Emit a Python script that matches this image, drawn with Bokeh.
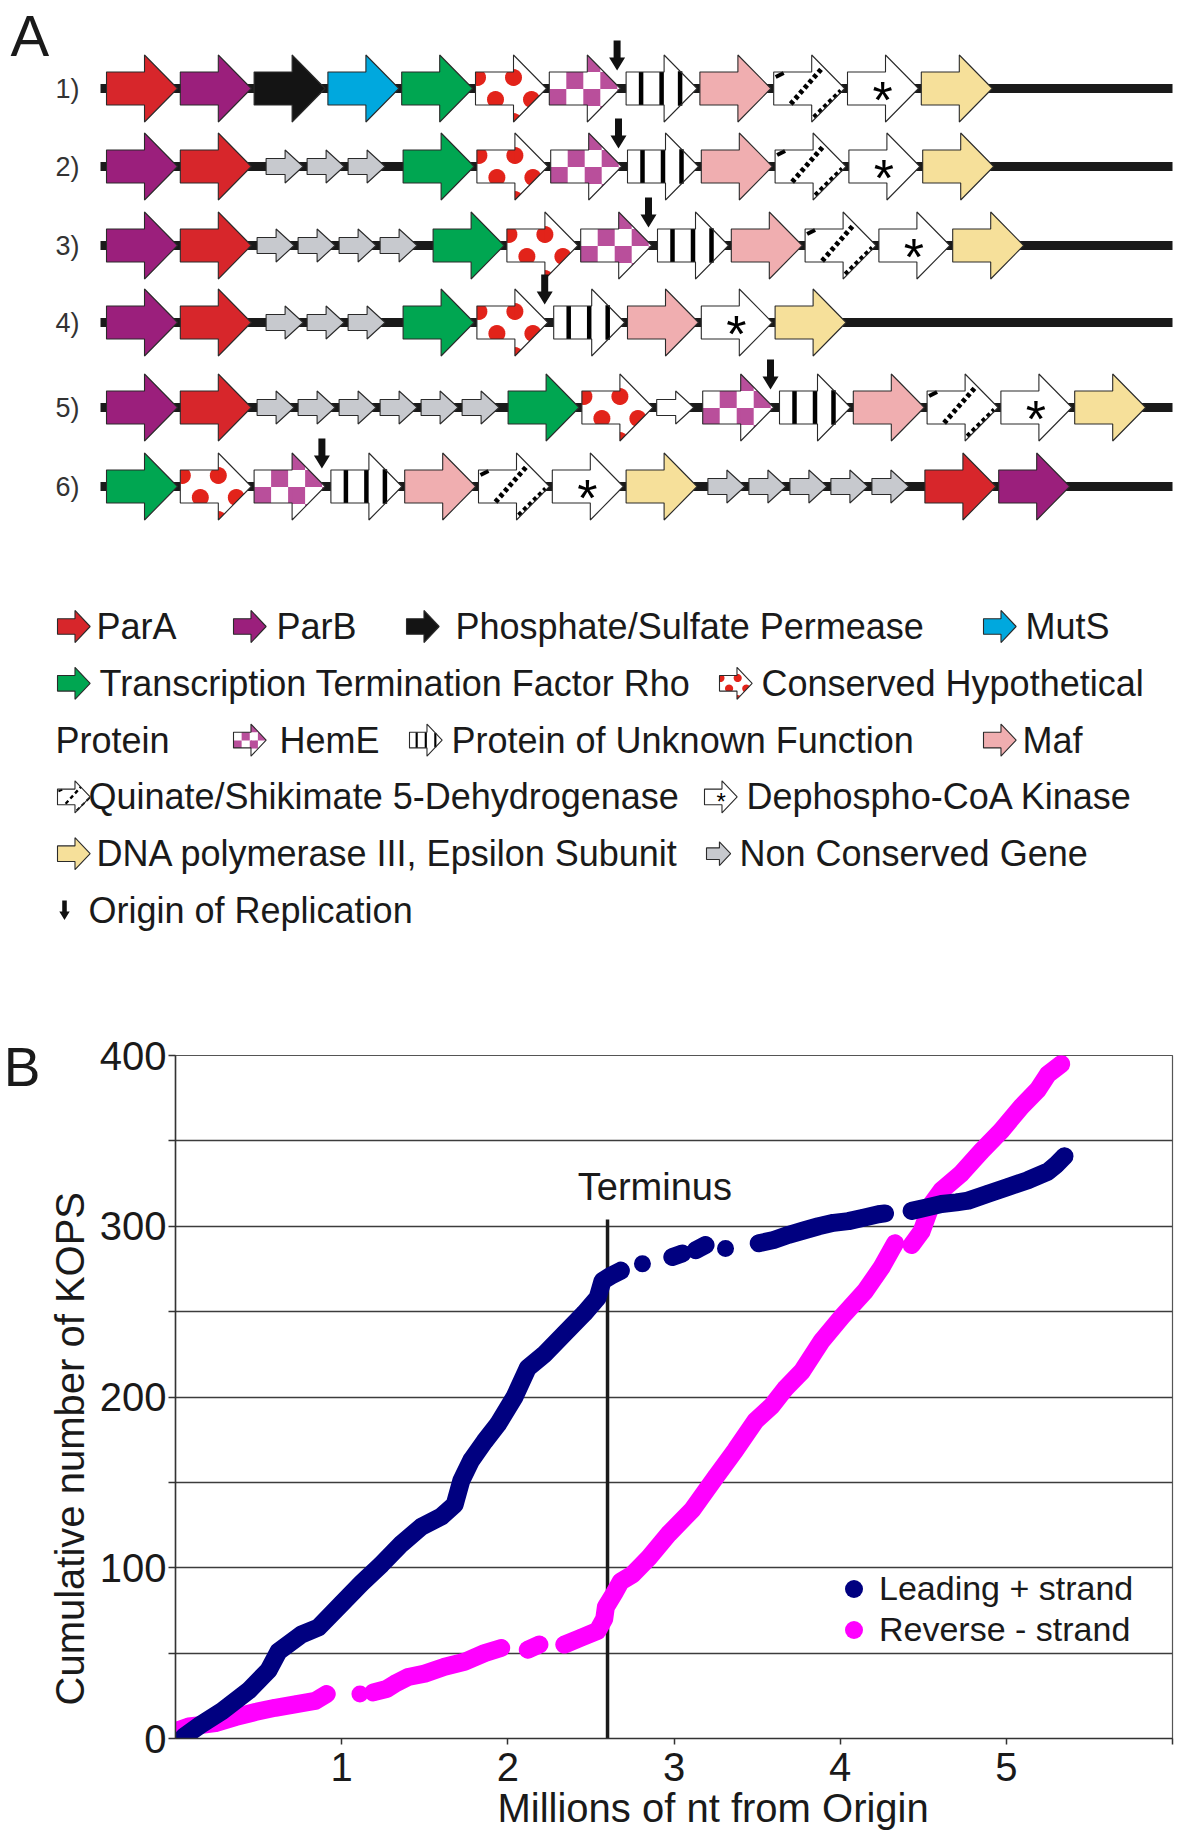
import math
from bokeh.plotting import figure
from bokeh.models import Range1d, FixedTicker, Label, Legend, LegendItem, Title, LinearAxis
from bokeh.embed import file_html
from bokeh.resources import INLINE
from bokeh.core.properties import value

FONT = "Liberation Sans"
NAN = float("nan")

# ====================== DATA ======================
# Panel A: gene order of each genome ("ORI" = origin of replication)
ROW_LABELS = ["1)", "2)", "3)", "4)", "5)", "6)"]
ROW_1 = ["parA", "parB", "perm", "mutS", "rho", "chp", "hemE", "ORI", "unk", "maf", "qsd", "coa", "pol"]
ROW_2 = ["parB", "parA", "ncg", "ncg", "ncg", "rho", "chp", "hemE", "ORI", "unk", "maf", "qsd", "coa", "pol"]
ROW_3 = ["parB", "parA", "ncg", "ncg", "ncg", "ncg", "rho", "chp", "hemE", "ORI", "unk", "maf", "qsd", "coa", "pol"]
ROW_4 = ["parB", "parA", "ncg", "ncg", "ncg", "rho", "chp", "ORI", "unk", "maf", "coa", "pol"]
ROW_5 = ["parB", "parA", "ncg", "ncg", "ncg", "ncg", "ncg", "ncg", "rho", "chp", "wsm", "hemE", "ORI",
         "unk", "maf", "qsd", "coa", "pol"]
ROW_6 = ["rho", "chp", "hemE", "ORI", "unk", "maf", "qsd", "coa", "pol", "ncg", "ncg", "ncg", "ncg", "ncg",
         "parA", "parB"]
ROWS = [ROW_1, ROW_2, ROW_3, ROW_4, ROW_5, ROW_6]

LEGEND_KEYS = ["parA", "parB", "perm", "mutS", "rho", "chp", None, "hemE", "unk", "maf", "qsd", "coa",
               "pol", "ncg", "ORI"]
LEGEND_LABELS = ["ParA", "ParB", "Phosphate/Sulfate Permease", "MutS",
                 "Transcription Termination Factor Rho", "Conserved Hypothetical",
                 "Protein", "HemE", "Protein of Unknown Function", "Maf",
                 "Quinate/Shikimate 5-Dehydrogenase", "Dephospho-CoA Kinase",
                 "DNA polymerase III, Epsilon Subunit", "Non Conserved Gene",
                 "Origin of Replication"]

# Panel B: cumulative KOPS vs position (millions of nt); NaN marks a gap between dot runs
TERMINUS = 2.6
LEAD_X = [0.05, 0.15, 0.28, 0.44, 0.56, 0.62, 0.76, 0.86, 1.00, 1.12, 1.24, 1.36, 1.48, 1.60, 1.68,
          1.72, 1.78, 1.86, 1.94, 2.04, 2.12, 2.22, 2.34, 2.46, 2.54, 2.57, 2.62, 2.68, NAN,
          2.81, NAN, 2.99, 3.05, NAN, 3.13, 3.19, NAN, 3.31, NAN,
          3.51, 3.60, 3.69, 3.78, 3.87, 3.96, 4.05, 4.14, 4.23, 4.27, NAN,
          4.43, 4.52, 4.61, 4.70, 4.77, 4.89, 5.01, 5.13, 5.25, 5.30, 5.35]
LEAD_Y = [1, 8, 16, 28, 40, 51, 61, 65, 79, 91, 102, 114, 124, 130, 137,
          151, 163, 174, 184, 200, 217, 225, 237, 249, 258, 268, 271, 274, NAN,
          278, NAN, 282, 284, NAN, 286, 289, NAN, 287, NAN,
          290, 292, 295, 297.5, 300, 302, 303, 305, 307, 307.5, NAN,
          309, 311, 313, 314, 315, 319, 323, 327, 332, 336, 341]
REV_X = [0.00, 0.02, 0.08, 0.16, 0.24, 0.36, 0.48, 0.60, 0.72, 0.84, 0.91, NAN, 1.11, NAN,
         1.19, 1.27, 1.32, 1.40, 1.50, 1.62, 1.74, 1.86, 1.96, NAN, 2.12, 2.19, NAN,
         2.34, 2.44, 2.54, 2.58, 2.59, 2.64, 2.68, 2.75, 2.85, 2.97, 3.11, 3.25, 3.37, 3.49, 3.59,
         3.67, 3.77, 3.89, 4.01, 4.15, 4.25, 4.33, NAN,
         4.43, 4.49, 4.55, 4.61, 4.73, 4.85, 4.97, 5.09, 5.19, 5.25, 5.33]
REV_Y = [2, 5, 7, 8, 9, 12.5, 15.5, 18, 20, 22, 26, NAN, 26, NAN,
         27, 29, 32, 36, 38, 42, 45, 50, 53, NAN, 52, 55, NAN,
         55, 59, 63, 70, 77, 85, 92, 96, 106, 120, 134, 153, 169, 186, 195,
         205, 215, 233, 247, 262, 276, 290, NAN,
         289, 297, 313, 321, 331, 344, 356, 370, 380, 389, 395]
Y_TICKS = [0, 50, 100, 150, 200, 250, 300, 350, 400]
X_TICKS = [1, 2, 3, 4, 5, 6]

# ====================== STYLE / LAYOUT ======================
COLORS = {"parA": "#d7262b", "parB": "#9b1f7c", "perm": "#141414", "mutS": "#00a8de",
          "rho": "#00a651", "chp": "white", "hemE": "white", "unk": "white", "maf": "#f0aeb0",
          "qsd": "white", "coa": "white", "pol": "#f6e09a", "ncg": "#c7c9ce", "wsm": "white"}
DOT_RED = "#e2231a"
CHECK_MAG = "#b94f9b"
EDGE = "#2a2a2a"
SMALL_KINDS = {"ncg", "wsm"}
ROW_Y = [88, 166, 245, 322, 407, 486]
ROW_X0 = 106
BIG = (71, 38, 16.5, 33.5)
BIG_STEP = 73.8
SMALL = (37, 19, 8, 16.5)
SMALL_STEP = 41
RUN_GAPS = {1: (1, 5), 3: (12, 14), 4: (3, 12), 5: (8, 12), 6: (3, 5)}
ORI_GAP = 3
LEG_Y0, LEG_DY = 626, 56.8
LEG_POS = [(0, 57), (0, 233), (0, 406), (0, 983), (1, 57), (1, 719), (2, 55), (2, 233), (2, 409),
           (2, 983), (3, 57), (3, 704), (4, 57), (4, 706), (5, 61)]
LEG_TXT_OFF = {"parA": 39, "parB": 43, "perm": 49, "mutS": 42, "rho": 42, "chp": 42, None: 0,
               "hemE": 46, "unk": 42, "maf": 39, "qsd": 31, "coa": 42, "pol": 39, "ncg": 33, "ORI": 27}
LEG_ICON_SCALE = {"ncg": 0.34}
B_LABEL_AT = 393.5


# ---------------- geometry helpers ----------------
def clip(subject, clipper):
    def cross(a, b, p):
        return (b[0] - a[0]) * (p[1] - a[1]) - (b[1] - a[1]) * (p[0] - a[0])
    area = sum(clipper[i][0] * clipper[(i + 1) % len(clipper)][1] -
               clipper[(i + 1) % len(clipper)][0] * clipper[i][1] for i in range(len(clipper)))
    sgn = 1 if area > 0 else -1
    out = list(subject)
    for i in range(len(clipper)):
        a, b = clipper[i], clipper[(i + 1) % len(clipper)]
        inp, out = out, []
        if not inp:
            break
        for j in range(len(inp)):
            cur, prev = inp[j], inp[j - 1]
            dc, dp = cross(a, b, cur) * sgn, cross(a, b, prev) * sgn
            if dc >= 0:
                if dp < 0:
                    t = dp / (dp - dc)
                    out.append((prev[0] + t * (cur[0] - prev[0]), prev[1] + t * (cur[1] - prev[1])))
                out.append(cur)
            elif dp >= 0:
                t = dp / (dp - dc)
                out.append((prev[0] + t * (cur[0] - prev[0]), prev[1] + t * (cur[1] - prev[1])))
    return out


base = {"xs": [], "ys": [], "c": []}
pat = {"xs": [], "ys": [], "c": []}
outl = {"xs": [], "ys": []}
solid = {"xs": [], "ys": [], "w": []}
dashed = {"xs": [], "ys": [], "w": []}
stars_big = {"x": [], "y": []}
stars_small = {"x": [], "y": []}
ori = {"xs": [], "ys": []}


def add_poly(store, pts, color=None):
    store["xs"].append([p[0] for p in pts])
    store["ys"].append([p[1] for p in pts])
    if color is not None:
        store["c"].append(color)


def add_gene(kind, x0, c, w, bl, bh, hh):
    k = hh / 33.5
    body = [(x0, c - bh), (x0 + bl + 1, c - bh), (x0 + bl + 1, c + bh), (x0, c + bh)]
    head = [(x0 + bl, c - hh), (x0 + w, c), (x0 + bl, c + hh)]
    shape = [(x0, c - bh), (x0 + bl, c - bh), (x0 + bl, c - hh), (x0 + w, c), (x0 + bl, c + hh),
             (x0 + bl, c + bh), (x0, c + bh)]
    add_poly(base, shape, COLORS[kind])
    if kind == "chp":
        r = 8.5 * k
        for j in range(-2, 4):
            for i in range(-2, 4):
                cx = x0 + (38 + 36 * i - 18 * (j % 2)) * k
                cy = c + (-11 + 22 * j) * k
                circ = [(cx + r * math.cos(2 * math.pi * t / 24), cy + r * math.sin(2 * math.pi * t / 24))
                        for t in range(24)]
                for piece in (body, head):
                    cl = clip(circ, piece)
                    if len(cl) >= 3:
                        add_poly(pat, cl, DOT_RED)
    elif kind == "hemE":
        s = 17 * k
        for i in range(int(w / s) + 1):
            for j in range(-3, 4):
                if (i + j) % 2 == 1:
                    sq = [(x0 + i * s, c - bh + j * s), (x0 + (i + 1) * s, c - bh + j * s),
                          (x0 + (i + 1) * s, c - bh + (j + 1) * s), (x0 + i * s, c - bh + (j + 1) * s)]
                    for piece in (body, head):
                        cl = clip(sq, piece)
                        if len(cl) >= 3:
                            add_poly(pat, cl, CHECK_MAG)
    elif kind == "unk":
        for xx in (x0 + 15 * k, x0 + bl - 2.5 * k, x0 + 54 * k):
            hx = bh if xx <= x0 + bl else hh * (x0 + w - xx) / (w - bl)
            solid["xs"].append([xx, xx]); solid["ys"].append([c - hx, c + hx]); solid["w"].append(4.5 * k)
    elif kind == "qsd":
        dashed["xs"].append([x0 + 17 * k, x0 + 49 * k]); dashed["ys"].append([c + bh - 1, c - 21 * k])
        dashed["w"].append(5 * k)
        dashed["xs"].append([x0 + 40 * k, x0 + 67 * k]); dashed["ys"].append([c + 28.5 * k, c + 2 * k])
        dashed["w"].append(4 * k)
        solid["xs"].append([x0 + 2 * k, x0 + 10 * k]); solid["ys"].append([c - bh + 5 * k, c - bh + 1 * k])
        solid["w"].append(4 * k)
    elif kind == "coa":
        store = stars_big if k > 0.8 else stars_small
        store["x"].append(x0 + 35 * k); store["y"].append(c)
    add_poly(outl, shape)


def add_ori(xc, top, k=1.0):
    sw, hw, L, hl = 3.5 * k, 8 * k, 30 * k, 13 * k
    pts = [(xc - sw, top), (xc + sw, top), (xc + sw, top + L - hl), (xc + hw, top + L - hl), (xc, top + L),
           (xc - hw, top + L - hl), (xc - sw, top + L - hl)]
    add_poly(ori, pts)


def layout_row(genes):
    items, oris = [], []
    x = ROW_X0
    i, n = 0, len(genes)
    while i < n:
        g = genes[i]
        if g == "ORI":
            x += ORI_GAP
            oris.append(x - 9)
            i += 1
            continue
        if g in SMALL_KINDS:
            j = i
            while j < n and genes[j] in SMALL_KINDS:
                j += 1
            lead, trail = RUN_GAPS.get(j - i, (4, 8))
            x += lead
            for q in range(i, j):
                items.append((genes[q], x, SMALL))
                x += SMALL_STEP
            x += trail
            i = j
            continue
        items.append((g, x, BIG))
        x += BIG_STEP
        i += 1
    return items, oris


# ====================== PANEL A ======================
pA = figure(width=1200, height=990, x_range=Range1d(0, 1200), y_range=Range1d(990, 0),
            output_backend="svg", toolbar_location=None, min_border=0,
            x_axis_location=None, y_axis_location=None)
pA.grid.visible = False
pA.outline_line_color = None

bb_x0, bb_x1, bb_y = [], [], []
for r, genes in enumerate(ROWS):
    c = ROW_Y[r]
    bb_x0.append(100); bb_x1.append(1172); bb_y.append(c)
    items, oris = layout_row(genes)
    for kind, x0, dims in items:
        add_gene(kind, x0, c, *dims)
    for xo in oris:
        add_ori(xo, c - 48)

pA.quad(left=bb_x0, right=bb_x1, top=[y - 4.5 for y in bb_y], bottom=[y + 4.5 for y in bb_y],
        fill_color="#1a1a1a", line_color=None)
pA.text(x=[67] * 6, y=ROW_Y, text=ROW_LABELS, text_font=value(FONT), text_font_size="27px",
        text_align="center", text_baseline="middle", text_color="#333333")

# legend of panel A
leg_tx, leg_ty, leg_tt = [], [], []
for key, lab, (row, xi) in zip(LEGEND_KEYS, LEGEND_LABELS, LEG_POS):
    yc = LEG_Y0 + LEG_DY * row
    if key == "ORI":
        add_ori(xi + 3, yc - 10, 0.65)
    elif key is not None:
        s = LEG_ICON_SCALE.get(key, 0.46)
        add_gene(key, xi, yc, 71 * s, 38 * s, 17 * s, 33.5 * s * 1.04)
    leg_tx.append(xi + LEG_TXT_OFF[key]); leg_ty.append(yc); leg_tt.append(lab)

pA.patches(xs=base["xs"], ys=base["ys"], fill_color=base["c"], line_color=None)
pA.patches(xs=pat["xs"], ys=pat["ys"], fill_color=pat["c"], line_color=None)
pA.multi_line(xs=solid["xs"], ys=solid["ys"], line_width=solid["w"], line_color="black")
pA.multi_line(xs=dashed["xs"], ys=dashed["ys"], line_width=dashed["w"], line_color="black",
              line_dash="4 3")
# the asterisk glyph sits above the text's middle line -> shift the anchor down a little
pA.text(x=stars_big["x"], y=[y + 11 for y in stars_big["y"]], text=["*"] * len(stars_big["x"]),
        text_font=value(FONT), text_font_size="52px", text_align="center", text_baseline="middle",
        text_color="black")
pA.text(x=stars_small["x"], y=[y + 5 for y in stars_small["y"]], text=["*"] * len(stars_small["x"]),
        text_font=value(FONT), text_font_size="24px", text_align="center", text_baseline="middle",
        text_color="black")
pA.patches(xs=outl["xs"], ys=outl["ys"], fill_color=None, line_color=EDGE, line_width=1.1)
pA.patches(xs=ori["xs"], ys=ori["ys"], fill_color="#111111", line_color=None)
pA.text(x=leg_tx, y=leg_ty, text=leg_tt, text_font=value(FONT), text_font_size="36px",
        text_baseline="middle", text_align="left", text_color="#1a1a1a")
pA.text(x=[10], y=[35], text=["A"], text_font=value(FONT), text_font_size="58px",
        text_baseline="middle", text_color="#1a1a1a")

# ====================== PANEL B ======================
pB = figure(width=1200, height=848, x_range=Range1d(0, 6), y_range=Range1d(0, 400),
            output_backend="svg", toolbar_location=None,
            min_border_left=172, min_border_right=28, min_border_top=65, min_border_bottom=100)
pB.xgrid.visible = False
pB.ygrid.ticker = FixedTicker(ticks=Y_TICKS)
pB.ygrid.grid_line_color = "#3c3c3c"
pB.ygrid.grid_line_width = 1.5
pB.outline_line_color = "#555555"
pB.outline_line_width = 1.2

pB.yaxis.ticker = FixedTicker(ticks=Y_TICKS)
pB.yaxis.major_label_overrides = {50: "", 150: "", 250: "", 350: ""}
pB.xaxis.ticker = FixedTicker(ticks=X_TICKS)
pB.xaxis.major_label_overrides = {6: ""}
for ax in (pB.xaxis[0], pB.yaxis[0]):
    ax.major_label_text_font = FONT
    ax.major_label_text_font_size = "40px"
    ax.major_label_text_color = "#1a1a1a"
    ax.axis_line_color = "#333333"
    ax.axis_line_width = 1.5
    ax.major_tick_line_color = "#333333"
    ax.major_tick_line_width = 1.5
    ax.major_tick_in = 0
    ax.minor_tick_line_color = None
pB.yaxis.major_tick_out = 7
pB.yaxis.major_label_standoff = 2
pB.xaxis.major_tick_out = 6
pB.xaxis.major_label_standoff = 8

pB.segment(x0=[TERMINUS], y0=[-10], x1=[TERMINUS], y1=[304], line_color="#1a1a1a", line_width=3.5)

NAVY, MAGENTA = "#000080", "#ff00ff"
pB.line(REV_X, REV_Y, line_width=18, line_color=MAGENTA, line_cap="round", line_join="round")
r_rev = pB.scatter(REV_X, REV_Y, size=17, fill_color=MAGENTA, line_color=None)
pB.line(LEAD_X, LEAD_Y, line_width=18, line_color=NAVY, line_cap="round", line_join="round")
r_lead = pB.scatter(LEAD_X, LEAD_Y, size=17, fill_color=NAVY, line_color=None)

for lab, rend, ly in (("Leading + strand", r_lead, 127), ("Reverse - strand", r_rev, 86)):
    pB.add_layout(Legend(items=[LegendItem(label=lab, renderers=[rend])],
                         location=(656, ly), padding=0, margin=0, spacing=0,
                         glyph_width=45, glyph_height=45, label_standoff=3,
                         label_text_font=FONT, label_text_font_size="34px", label_text_color="#1a1a1a",
                         border_line_color=None, background_fill_alpha=0))

pB.add_layout(Label(x=2.885, y=323, text="Terminus", text_align="center", text_baseline="middle",
                    text_font=FONT, text_font_size="38px", text_color="#1a1a1a"))
pB.add_layout(Title(text="Cumulative number of KOPS", align="left", offset=33, standoff=10,
                    text_font=FONT, text_font_size="40px", text_font_style="normal",
                    text_color="#1a1a1a"), "left")
pB.add_layout(LinearAxis(ticker=FixedTicker(ticks=[B_LABEL_AT]), major_label_overrides={B_LABEL_AT: "B"},
                         axis_line_color=None, major_tick_line_color=None, minor_tick_line_color=None,
                         major_tick_out=0, major_tick_in=0, major_label_standoff=0,
                         major_label_text_font=FONT, major_label_text_font_size="55px",
                         major_label_text_color="#1a1a1a"), "left")
pB.add_layout(Title(text="Millions of nt from Origin", align="left", offset=322, standoff=0,
                    text_font=FONT, text_font_size="40px", text_font_style="normal",
                    text_color="#1a1a1a"), "below")

open("out.html", "w").write(file_html([pA, pB], INLINE))
